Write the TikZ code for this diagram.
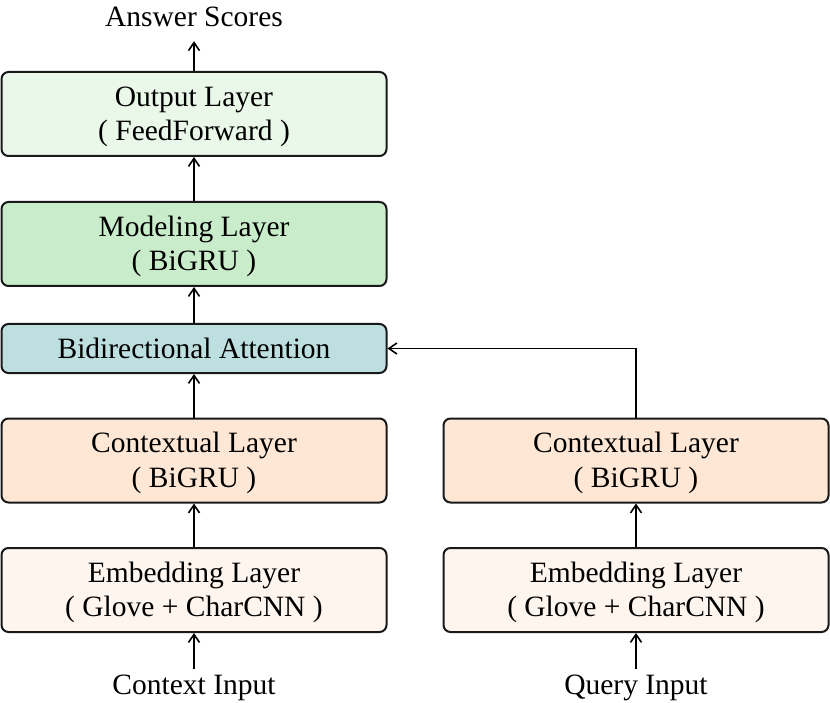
\documentclass[tikz,border=0pt]{standalone}
\usepackage{fontspec}
\setmainfont{Liberation Serif}
\usetikzlibrary{arrows.meta}
\definecolor{outc}{HTML}{EAF8EA}
\definecolor{modc}{HTML}{C9EDCB}
\definecolor{attc}{HTML}{BEDFE0}
\definecolor{ctxc}{HTML}{FEE7D4}
\definecolor{embc}{HTML}{FEF5EE}
\newcommand{\lowstrut}{\rule{0pt}{25pt}}
\tikzset{
  layer/.style={draw=black!90, line width=2pt, rounded corners=7pt, minimum width=385pt,
    align=center, inner sep=0pt, font=\fontsize{29.5}{34.5}\selectfont},
  lbl/.style={font=\fontsize{29.5}{34.5}\selectfont, text height=20pt, text depth=7pt, inner sep=5pt},
  conn/.style={line width=1.6pt, -{Straight Barb[length=8pt,width=11pt]}}
}
\begin{document}
\begin{tikzpicture}[x=1pt,y=-1pt]
\useasboundingbox (0,0) rectangle (830,703);
\node[layer, fill=outc, minimum height=84pt] (out) at (194,114) {\lowstrut Output Layer\\( FeedForward )};
\node[layer, fill=modc, minimum height=84pt] (mod) at (194,244) {\lowstrut Modeling Layer\\( BiGRU )};
\node[layer, fill=attc, minimum height=49pt] (att) at (194,348.5) {Bidirectional Attention};
\node[layer, fill=ctxc, minimum height=84pt] (ctxL) at (194,460.5) {\lowstrut Contextual Layer\\( BiGRU )};
\node[layer, fill=ctxc, minimum height=84pt] (ctxR) at (636,460.5) {\lowstrut Contextual Layer\\( BiGRU )};
\node[layer, fill=embc, minimum height=84pt] (embL) at (194,590) {\lowstrut Embedding Layer\\( Glove + CharCNN )};
\node[layer, fill=embc, minimum height=84pt] (embR) at (636,590) {\lowstrut Embedding Layer\\( Glove + CharCNN )};
\node[lbl, anchor=base] (ans) at (194,27) {Answer Scores};
\node[lbl, anchor=base] (cin) at (194,694) {Context Input};
\node[lbl, anchor=base] (qin) at (636,694) {Query Input};
\draw[conn] (out.north) -- ([yshift=-2pt]ans.south);
\draw[conn] (mod.north) -- (out.south);
\draw[conn] (att.north) -- (mod.south);
\draw[conn] (ctxL.north) -- (att.south);
\draw[conn] (embL.north) -- (ctxL.south);
\draw[conn] (cin.north) -- (embL.south);
\draw[conn] (qin.north) -- (embR.south);
\draw[conn] (embR.north) -- (ctxR.south);
\draw[conn] (ctxR.north) |- (att.east);
\end{tikzpicture}
\end{document}
